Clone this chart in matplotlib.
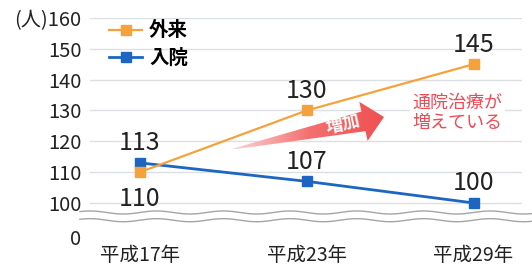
import numpy as np
import matplotlib
matplotlib.use('Agg')
import matplotlib.pyplot as plt
from matplotlib.patches import Polygon
from matplotlib.colors import LinearSegmentedColormap

plt.rcParams['font.family'] = ['Noto Sans CJK JP', 'DejaVu Sans']

# data
years = ['平成17年', '平成23年', '平成29年']
outpatient = [110, 130, 145]   # 外来
inpatient = [113, 107, 100]    # 入院
y_ticks = [100, 110, 120, 130, 140, 150, 160]
ZERO_POS = 89  # where "0" sits below the axis break

orange = '#f6a23c'
blue = '#1c66c2'

fig = plt.figure(figsize=(5.32, 2.66), dpi=100)
ax = fig.add_axes([0.169, 0.1038, 0.812, 0.8286])
x = np.arange(len(years))

ax.set_xlim(-0.3, 2.29)
ax.set_ylim(88.5, 160)
for s in ax.spines.values():
    s.set_visible(False)

# grid
for v in y_ticks:
    ax.axhline(v, color='#dcdfe3', lw=1, zorder=0)

labels = ['0'] + [str(v) for v in y_ticks]
labels[-1] = '(人)' + labels[-1]
ax.set_yticks([ZERO_POS] + y_ticks)
ax.set_yticklabels(labels)
ax.set_xticks(x)
ax.set_xticklabels(years)
ax.tick_params(axis='y', length=0, pad=6, labelsize=14.5, labelcolor='#222222')
ax.tick_params(axis='x', length=0, pad=5, labelsize=14, labelcolor='#222222')

# axis break (wavy double line)
xs = np.linspace(-0.36, 2.4, 400)
wave = 0.5 * np.sin(xs / 0.4 * 2 * np.pi)
ax.fill_between(xs, 94.4 + wave, 96.9 + wave, color='white', zorder=3, clip_on=False)
ax.plot(xs, 94.4 + wave, color='#a5a5a5', lw=1, zorder=4, clip_on=False)
ax.plot(xs, 96.9 + wave, color='#a5a5a5', lw=1, zorder=4, clip_on=False)

# lines
ax.plot(x, outpatient, color=orange, lw=1.6, marker='s', ms=7.5, label='外来', zorder=6)
ax.plot(x, inpatient, color=blue, lw=2, marker='s', ms=7.5, label='入院', zorder=5)

# value labels
for i, v in enumerate(outpatient):
    off = -19 if i == 0 else 14
    ax.annotate(str(v), (x[i], v), xytext=(0, off), textcoords='offset points',
                ha='center', va='center', fontsize=18, color='#222222', zorder=7)
for i, v in enumerate(inpatient):
    ax.annotate(str(v), (x[i], v), xytext=(0, 14), textcoords='offset points',
                ha='center', va='center', fontsize=18, color='#222222', zorder=7)

# arrow "増加" drawn in pixel space, then mapped to data
fig.canvas.draw()
H = 266
tail = np.array([233.0, H - 149.0])
tip = np.array([384.0, H - 117.0])
u = (tip - tail) / np.linalg.norm(tip - tail)
n = np.array([-u[1], u[0]])
L = np.linalg.norm(tip - tail)
base = tail + u * (L - 21)
pts_px = [tail + n * 0.5, base + n * 10, base + n * 20, tip, base - n * 20, base - n * 10, tail - n * 0.5]
pts = ax.transData.inverted().transform(pts_px)
poly = Polygon(pts, closed=True, facecolor='none', edgecolor='none', zorder=4)
ax.add_patch(poly)
grad = np.linspace(0, 1, 256).reshape(1, -1)
cmap = LinearSegmentedColormap.from_list('r', ['#fcd6d6', '#f37070', '#f05050'])
ext = [pts[:, 0].min(), pts[:, 0].max(), pts[:, 1].min(), pts[:, 1].max()]
im = ax.imshow(grad, extent=ext, cmap=cmap, aspect='auto', zorder=4)
im.set_clip_path(poly)
ax.set_xlim(-0.3, 2.29)
ax.set_ylim(88.5, 160)
mid = ax.transData.inverted().transform([tail + u * (L - 42) + n * 1])[0]
ang = np.degrees(np.arctan2(u[1], u[0]))
ax.text(mid[0], mid[1], '増加', color='white', fontsize=12.5, fontweight='bold',
        rotation=ang, ha='center', va='center', zorder=5)

# annotation text
ax.text(1.635, 129.2, '通院治療が\n増えている', color='#ef4a55', fontsize=13, ha='left', va='center',
        linespacing=1.2, zorder=5,
        bbox=dict(facecolor='white', edgecolor='none', pad=2))

ax.legend(loc='upper left', bbox_to_anchor=(0.045, 0.985), frameon=False, borderpad=0,
          borderaxespad=0, handlelength=1.7, handletextpad=0.35, labelspacing=0.45,
          prop={'size': 14, 'weight': 'bold'})

fig.savefig('out.png', dpi=100)
